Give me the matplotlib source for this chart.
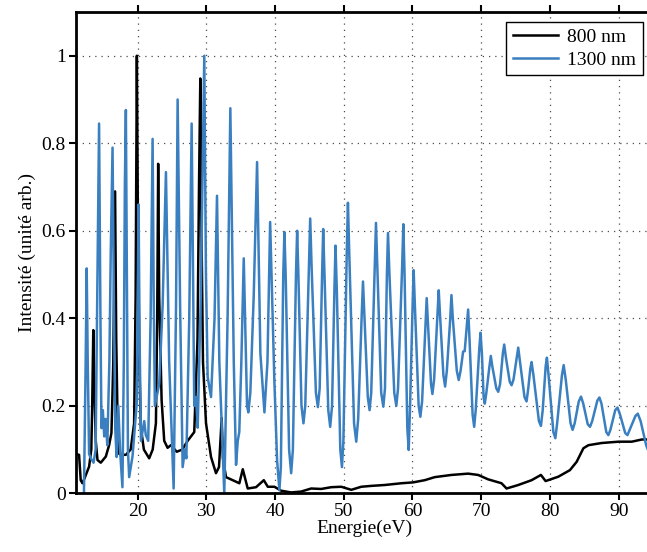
import matplotlib
matplotlib.use("Agg")
import matplotlib.pyplot as plt
from matplotlib.ticker import FixedLocator, FixedFormatter

# 800 nm spectrum (energy eV, intensity)
e800 = [11.0, 11.49, 11.73, 11.98, 12.3, 12.95, 13.27, 13.4, 13.56, 13.7, 13.92, 14.17,
        14.65, 15.38, 15.86, 16.2, 16.47, 16.73, 16.9, 17.17, 17.57, 18.3, 19.0, 19.5,
        19.72, 19.9, 20.04, 20.26, 20.48, 20.92, 21.69, 22.2, 22.67, 22.86, 23.0, 23.15,
        23.5, 23.88, 24.37, 24.85, 25.7, 26.5, 27.29, 28.25, 28.72, 28.94, 29.13, 29.3, 29.52,
        29.96, 30.69, 31.41, 31.85, 32.24, 32.43, 32.87, 33.85, 34.81, 35.31, 36.03, 37.24,
        38.37, 38.95, 39.91, 40.89, 42.35, 43.8, 45.26, 46.72, 48.18, 49.64, 51.1, 52.55,
        54.01, 55.95, 58.38, 60.09, 61.78, 63.24, 65.67, 68.1, 69.56, 71.0, 72.96, 73.69,
        75.39, 77.33, 78.69, 79.37, 81.22, 82.91, 83.89, 84.87, 85.6, 87.54, 89.97, 91.91,
        93.37, 95.0]
i800 = [0.09, 0.088, 0.03, 0.023, 0.035, 0.061, 0.1, 0.2, 0.373, 0.25, 0.12, 0.076,
        0.07, 0.084, 0.11, 0.138, 0.3, 0.69, 0.35, 0.092, 0.088, 0.088, 0.1, 0.16,
        0.45, 1.0, 0.65, 0.3, 0.15, 0.1, 0.08, 0.1, 0.16, 0.4, 0.753, 0.45,
        0.213, 0.12, 0.104, 0.11, 0.095, 0.1, 0.12, 0.14, 0.35, 0.7, 0.948, 0.6, 0.3,
        0.16, 0.083, 0.046, 0.06, 0.172, 0.08, 0.037, 0.03, 0.023, 0.055, 0.011, 0.014,
        0.03, 0.015, 0.015, 0.006, 0.002, 0.004, 0.011, 0.01, 0.014, 0.015, 0.008, 0.015,
        0.017, 0.019, 0.023, 0.025, 0.03, 0.037, 0.042, 0.045, 0.042, 0.032, 0.023, 0.011,
        0.019, 0.03, 0.042, 0.028, 0.038, 0.053, 0.072, 0.103, 0.11, 0.115, 0.118, 0.118,
        0.123, 0.123]

# 1300 nm spectrum, low-energy part (energy eV, intensity)
e1300_low = [12.2, 12.45, 12.6, 12.75, 12.95, 13.2, 13.6, 13.9, 14.1, 14.4, 14.6, 14.75,
             14.95, 15.15, 15.35, 15.6, 15.9, 16.1, 16.36, 16.55, 16.75, 16.95, 17.2, 17.45,
             17.8, 18.0, 18.15, 18.3, 18.45, 18.6, 18.78, 19.27, 19.9, 20.15, 20.3, 20.5,
             20.97, 21.2, 21.55, 21.9, 22.19, 22.35, 22.52, 22.9, 23.15, 23.65, 24.13, 24.6,
             25.25, 25.6, 25.83, 26.2, 26.56, 26.9, 27.1, 27.52, 27.87, 28.25, 28.5, 28.75,
             29.2, 29.71, 29.95, 30.2, 30.69, 31.2, 31.56, 31.9, 32.62, 33.1, 33.5, 34.0,
             34.33, 34.58, 34.8, 35.1, 35.45, 35.93, 36.12, 36.41, 36.9, 37.39, 37.87, 38.46,
             38.9, 39.29, 39.9, 40.3]
i1300_low = [0.0, 0.3, 0.514, 0.3, 0.09, 0.08, 0.07, 0.1, 0.4, 0.845, 0.4, 0.149,
             0.19, 0.13, 0.17, 0.11, 0.3, 0.55, 0.79, 0.45, 0.15, 0.083, 0.2, 0.1,
             0.014, 0.3, 0.7, 0.876, 0.5, 0.1, 0.037, 0.085, 0.21, 0.66, 0.35, 0.12,
             0.165, 0.133, 0.12, 0.4, 0.81, 0.45, 0.2, 0.23, 0.25, 0.43, 0.734, 0.3,
             0.011, 0.43, 0.9, 0.42, 0.06, 0.1, 0.08, 0.4, 0.845, 0.2, 0.22, 0.15,
             0.45, 1.0, 0.5, 0.266, 0.22, 0.4, 0.68, 0.3, 0.0, 0.4, 0.88, 0.3,
             0.065, 0.12, 0.14, 0.3, 0.537, 0.2, 0.185, 0.23, 0.45, 0.757, 0.32, 0.185,
             0.3, 0.62, 0.26, 0.076]

# 1300 nm spectrum, high-energy part (energy eV, intensity)
e1300_high = [40.64, 40.85, 41.2, 41.37, 41.55, 42.05, 42.35, 42.6, 43.05, 43.22, 43.4, 43.85,
              44.14, 44.4, 44.95, 45.12, 45.32, 45.95, 46.24, 46.5, 46.85, 47.01, 47.2, 47.75,
              48.03, 48.3, 48.65, 48.8, 49.0, 49.5, 49.74, 49.95, 50.45, 50.61, 50.8, 51.5,
              51.82, 52.1, 52.62, 52.8, 53.0, 53.5, 53.76, 54.0, 54.52, 54.69, 54.88, 55.45,
              55.76, 56.0, 56.28, 56.44, 56.65, 57.35, 57.65, 57.9, 58.5, 58.67, 58.85, 59.25,
              59.45, 59.65, 60.02, 60.17, 60.35, 60.9, 61.15, 61.4, 61.9, 62.07, 62.25, 62.7,
              62.9, 63.15, 63.65, 63.82, 64.0, 64.5, 64.75, 65.0, 65.5, 65.67, 65.87, 66.45,
              66.73, 67.0, 67.37, 67.6, 67.95, 68.1, 68.28, 68.75, 68.98, 69.2, 69.72, 69.9,
              70.1, 70.35, 70.52, 70.75, 71.2, 71.4, 71.62, 72.2, 72.48, 72.75, 73.15, 73.35,
              73.6, 74.15, 74.42, 74.7, 75.18, 75.39, 75.65, 76.3, 76.6, 76.85, 77.15, 77.33,
              77.6, 78.4, 78.69, 78.95, 79.38, 79.56, 79.8, 80.5, 80.79, 81.05, 81.75, 82.0,
              82.3, 83.0, 83.3, 83.6, 84.2, 84.52, 84.85, 85.5, 85.83, 86.15, 86.9, 87.2,
              87.5, 88.2, 88.5, 88.8, 89.5, 89.83, 90.2, 90.95, 91.28, 91.6, 92.45, 92.78,
              93.2, 94.0, 95.0]
i1300_high = [0.007, 0.06, 0.5, 0.597, 0.5, 0.1, 0.046, 0.1, 0.5, 0.6, 0.5, 0.2,
              0.16, 0.2, 0.53, 0.628, 0.52, 0.23, 0.197, 0.24, 0.5, 0.604, 0.5, 0.19,
              0.152, 0.2, 0.47, 0.566, 0.46, 0.1, 0.06, 0.12, 0.56, 0.664, 0.55, 0.16,
              0.118, 0.17, 0.41, 0.484, 0.41, 0.22, 0.19, 0.23, 0.52, 0.618, 0.52, 0.23,
              0.198, 0.24, 0.5, 0.595, 0.5, 0.23, 0.2, 0.24, 0.52, 0.615, 0.5, 0.15,
              0.099, 0.2, 0.43, 0.51, 0.43, 0.2, 0.175, 0.21, 0.39, 0.446, 0.39, 0.25,
              0.227, 0.26, 0.41, 0.464, 0.41, 0.27, 0.244, 0.28, 0.4, 0.453, 0.4, 0.28,
              0.259, 0.28, 0.324, 0.325, 0.39, 0.42, 0.36, 0.18, 0.152, 0.19, 0.33, 0.367,
              0.32, 0.22, 0.205, 0.23, 0.29, 0.314, 0.29, 0.24, 0.232, 0.25, 0.32, 0.34,
              0.31, 0.255, 0.247, 0.26, 0.31, 0.333, 0.3, 0.22, 0.21, 0.24, 0.285, 0.3,
              0.27, 0.165, 0.154, 0.19, 0.29, 0.31, 0.27, 0.14, 0.126, 0.16, 0.27, 0.293,
              0.26, 0.16, 0.145, 0.16, 0.21, 0.221, 0.205, 0.158, 0.152, 0.165, 0.212, 0.219,
              0.205, 0.14, 0.133, 0.145, 0.19, 0.196, 0.18, 0.138, 0.133, 0.145, 0.177, 0.182,
              0.165, 0.11, 0.07]

xticks = [20, 30, 40, 50, 60, 70, 80, 90]
yticks = [0, 0.2, 0.4, 0.6, 0.8, 1.0]
ytick_labels = ["0", "0.2", "0.4", "0.6", "0.8", "1"]

plt.rcParams['font.family'] = ['Liberation Serif', 'DejaVu Serif']
plt.rcParams['font.size'] = 14

fig = plt.figure(figsize=(6.47, 5.52), dpi=100)
ax = fig.add_axes([0.117, 0.1063, 1.0093 - 0.117, 0.9783 - 0.1063])

e1300 = e1300_low + e1300_high
i1300 = i1300_low + i1300_high

ax.plot(e800, i800, color='black', lw=1.8, label='800 nm', solid_joinstyle='round')
ax.plot(e1300, i1300, color='#3a7fc0', lw=1.8, label='1300 nm', solid_joinstyle='round')

ax.set_xlim(11, 95)
ax.set_ylim(0, 1.1)
ax.xaxis.set_major_locator(FixedLocator(xticks))
ax.yaxis.set_major_locator(FixedLocator(yticks))
ax.yaxis.set_major_formatter(FixedFormatter(ytick_labels))
ax.grid(True, linestyle=(0, (1, 4)), color='0.3', lw=0.9)

for s in ['left', 'bottom', 'top']:
    ax.spines[s].set_linewidth(2.0)
ax.spines['right'].set_visible(False)
ax.tick_params(axis='both', direction='out', length=5, width=1.5, labelsize=14, pad=2)
ax.tick_params(axis='x', top=True)

ax.set_xlabel('Energie(eV)', fontsize=14, labelpad=0)
ax.set_ylabel('Intensité (unité arb.)', fontsize=14, labelpad=4)

leg = ax.legend(loc='upper right', fancybox=False, framealpha=1, edgecolor='black',
                handlelength=2.3, labelspacing=0.25, borderpad=0.35, handletextpad=0.5,
                borderaxespad=0.5, fontsize=14)
leg.get_frame().set_linewidth(1.0)

fig.savefig('out.png', dpi=100)
